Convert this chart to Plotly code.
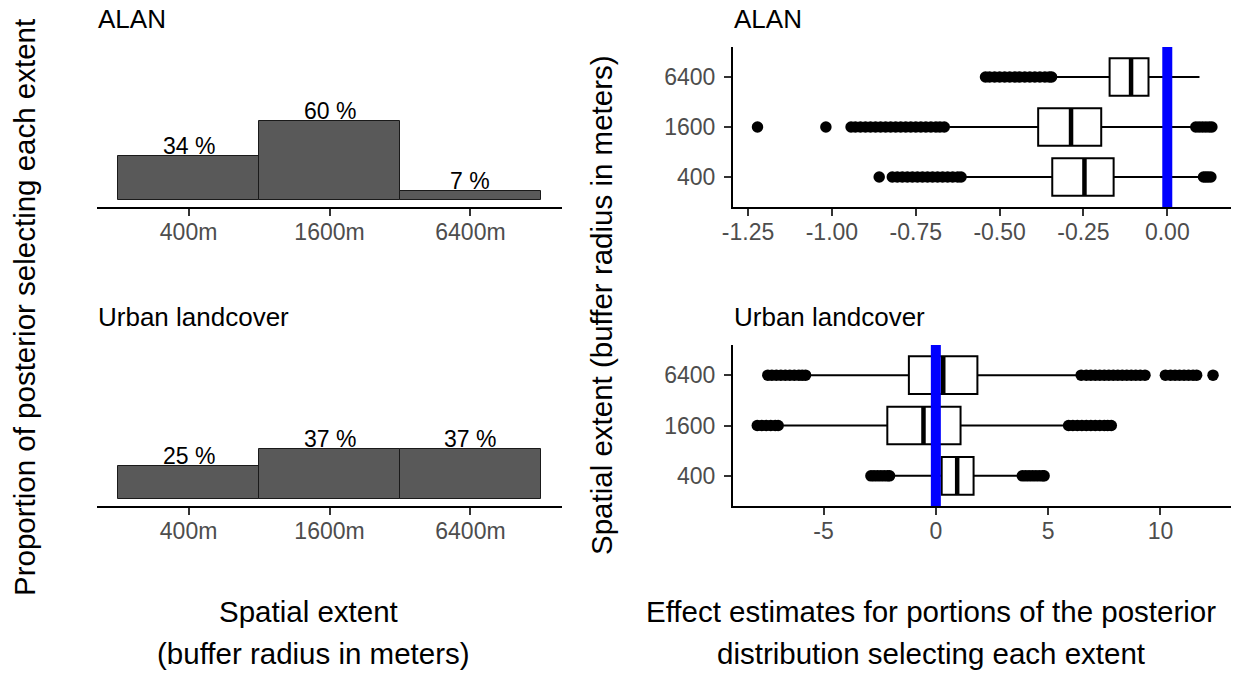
import plotly.graph_objects as go

W, H = 1239, 673

# ---------------- data ----------------
extents = ["400m", "1600m", "6400m"]
alan_prop = [0.34, 0.60, 0.07]
urban_prop = [0.25, 0.37, 0.37]
alan_labels = ["34 %", "60 %", "7 %"]
urban_labels = ["25 %", "37 %", "37 %"]

radius_labels = ["400", "1600", "6400"]

# ALAN effect estimates (box stats per extent: 400, 1600, 6400)
alan_q1 = [-0.343, -0.385, -0.172]
alan_med = [-0.247, -0.287, -0.108]
alan_q3 = [-0.160, -0.197, -0.056]
alan_lo = [-0.605, -0.650, -0.335]
alan_hi = [0.095, 0.078, 0.096]
alan_out_400 = [-0.859, -0.820, -0.805, -0.790, -0.775, -0.760, -0.745, -0.730, -0.715,
                -0.700, -0.685, -0.670, -0.655, -0.640, -0.625, -0.615,
                0.108, 0.115, 0.122, 0.130]
alan_out_1600 = [-1.222, -1.018, -0.943, -0.930, -0.915, -0.900, -0.885, -0.870, -0.855,
                 -0.840, -0.825, -0.810, -0.795, -0.780, -0.765, -0.750, -0.735, -0.720,
                 -0.705, -0.690, -0.678, -0.665,
                 0.085, 0.095, 0.105, 0.115, 0.125, 0.133]
alan_out_6400 = [-0.542, -0.530, -0.515, -0.500, -0.485, -0.470, -0.455, -0.440, -0.425,
                 -0.410, -0.395, -0.380, -0.365, -0.352, -0.345]

# Urban landcover effect estimates
urban_q1 = [0.26, -2.16, -1.20]
urban_med = [0.95, -0.55, 0.33]
urban_q3 = [1.68, 1.10, 1.85]
urban_lo = [-1.84, -6.80, -5.60]
urban_hi = [3.63, 5.69, 6.25]
urban_out_400 = [-2.89, -2.75, -2.60, -2.45, -2.30, -2.15, -2.06,
                 3.85, 4.00, 4.15, 4.30, 4.45, 4.60, 4.75, 4.82]
urban_out_1600 = [-7.95, -7.75, -7.55, -7.35, -7.15, -7.02,
                  5.91, 6.10, 6.30, 6.50, 6.70, 6.90, 7.10, 7.30, 7.50, 7.65, 7.81]
urban_out_6400 = [-7.48, -7.30, -7.10, -6.90, -6.70, -6.50, -6.30, -6.10, -5.95, -5.80,
                  6.47, 6.70, 6.90, 7.10, 7.30, 7.50, 7.70, 7.90, 8.10, 8.30, 8.50, 8.70,
                  8.90, 9.10, 9.31, 10.22, 10.45, 10.65, 10.85, 11.05, 11.25, 11.45, 11.61,
                  12.34]

alan_ticks = [-1.25, -1.00, -0.75, -0.50, -0.25, 0.00]
alan_ticktext = ["-1.25", "-1.00", "-0.75", "-0.50", "-0.25", "0.00"]
urban_ticks = [-5, 0, 5, 10]
urban_ticktext = ["-5", "0", "5", "10"]

# ---------------- helpers ----------------
FONT = "Liberation Sans, Arial, sans-serif"
TICKCOL = "#4D4D4D"
pos = [1, 2, 3]
BOXW = 0.75


def px_x(p):
    return p / W


def px_y(p):
    return 1 - p / H


fig = go.Figure()

# ---------------- bar panels ----------------
for props, labels, xa, ya in [(alan_prop, alan_labels, "x", "y"),
                              (urban_prop, urban_labels, "x2", "y2")]:
    fig.add_trace(go.Bar(x=pos, y=props, width=1.0, marker=dict(color="#595959",
                  line=dict(color="#1a1a1a", width=1)), xaxis=xa, yaxis=ya,
                  showlegend=False, hoverinfo="skip"))
    for p, v, t in zip(pos, props, labels):
        fig.add_annotation(x=p, y=v, xref=xa, yref=ya, text=t, showarrow=False,
                           yanchor="bottom", yshift=-5,
                           font=dict(family=FONT, size=23, color="black"))

# ---------------- box panels ----------------
def add_box(q1, med, q3, lo, hi, outs, xa, ya):
    fig.add_trace(go.Box(y=pos, q1=q1, median=med, q3=q3, lowerfence=lo, upperfence=hi,
                         orientation="h", width=BOXW, fillcolor="white",
                         line=dict(color="black", width=2), whiskerwidth=0,
                         boxpoints=False, xaxis=xa, yaxis=ya, showlegend=False,
                         hoverinfo="skip"))
    mx, my = [], []
    for p, m in zip(pos, med):
        mx += [m, m, None]
        my += [p - BOXW / 2, p + BOXW / 2, None]
    fig.add_trace(go.Scatter(x=mx, y=my, mode="lines", line=dict(color="black", width=4.5),
                             xaxis=xa, yaxis=ya, showlegend=False, hoverinfo="skip"))
    ox, oy = [], []
    for p, o in zip(pos, outs):
        ox += o
        oy += [p] * len(o)
    fig.add_trace(go.Scatter(x=ox, y=oy, mode="markers",
                             marker=dict(color="black", size=11.5, line=dict(width=0)),
                             xaxis=xa, yaxis=ya, showlegend=False, hoverinfo="skip",
                             cliponaxis=False))


add_box(alan_q1, alan_med, alan_q3, alan_lo, alan_hi,
        [alan_out_400, alan_out_1600, alan_out_6400], "x3", "y3")
add_box(urban_q1, urban_med, urban_q3, urban_lo, urban_hi,
        [urban_out_400, urban_out_1600, urban_out_6400], "x4", "y4")

for xa, ya in [("x3", "y3"), ("x4", "y4")]:
    fig.add_shape(type="line", xref=xa, yref=ya + " domain", x0=0, x1=0, y0=0, y1=1,
                  line=dict(color="#0000FF", width=10), layer="above")

# ---------------- axes ----------------
common = dict(showline=True, linecolor="black", linewidth=2, ticks="outside", ticklen=7,
              tickwidth=2, tickcolor="#333333", showgrid=False, zeroline=False,
              tickfont=dict(family=FONT, size=23, color=TICKCOL), fixedrange=True,
              automargin=False)
common_x = dict(common, ticklabelstandoff=-4)
common_y = dict(common, ticklabelstandoff=4)

LX = [px_x(97), px_x(562)]
RX = [px_x(733), px_x(1231)]

fig.update_layout(
    width=W, height=H,
    margin=dict(l=0, r=0, t=0, b=0, pad=0, autoexpand=False),
    paper_bgcolor="white", plot_bgcolor="white",
    bargap=0,
    xaxis=dict(domain=LX, anchor="y", range=[0.35, 3.65], tickvals=pos, ticktext=extents, **common_x),
    yaxis=dict(domain=[px_y(207), px_y(62)], anchor="x", range=[-0.05, 1.05], visible=False,
               automargin=False),
    xaxis2=dict(domain=LX, anchor="y2", range=[0.35, 3.65], tickvals=pos, ticktext=extents, **common_x),
    yaxis2=dict(domain=[px_y(506), px_y(358)], anchor="x2", range=[-0.05, 1.05], visible=False,
                automargin=False),
    xaxis3=dict(domain=RX, anchor="y3", range=[-1.295, 0.19], tickvals=alan_ticks,
                ticktext=alan_ticktext, **common_x),
    yaxis3=dict(domain=[px_y(207), px_y(47)], anchor="x3", range=[0.4, 3.6], tickvals=pos,
                ticktext=radius_labels, **common_y),
    xaxis4=dict(domain=RX, anchor="y4", range=[-9.03, 13.14], tickvals=urban_ticks,
                ticktext=urban_ticktext, **common_x),
    yaxis4=dict(domain=[px_y(506), px_y(345)], anchor="x4", range=[0.4, 3.6], tickvals=pos,
                ticktext=radius_labels, **common_y),
)

# ---------------- titles ----------------
def txt(text, x, y, size, xanchor="center", angle=0):
    fig.add_annotation(text=text, x=px_x(x), y=px_y(y), xref="paper", yref="paper",
                       showarrow=False, xanchor=xanchor, yanchor="middle", textangle=angle,
                       font=dict(family=FONT, size=size, color="black"))


txt("ALAN", 96, 18.5, 26, "left")
txt("ALAN", 732, 18.5, 26, "left")
txt("Urban landcover", 96, 317, 26, "left")
txt("Urban landcover", 732, 317, 26, "left")

txt("Spatial extent", 308, 611, 29.5)
txt("(buffer radius in meters)", 313, 653, 29.5)
txt("Effect estimates for portions of the posterior", 931, 611, 29.5)
txt("distribution selecting each extent", 931, 653, 29.5)

txt("Proportion of posterior selecting each extent", 25, 308, 29.5, angle=-90)
txt("Spatial extent (buffer radius in meters)", 602, 305, 29.5, angle=-90)

fig.write_html("out.html")
